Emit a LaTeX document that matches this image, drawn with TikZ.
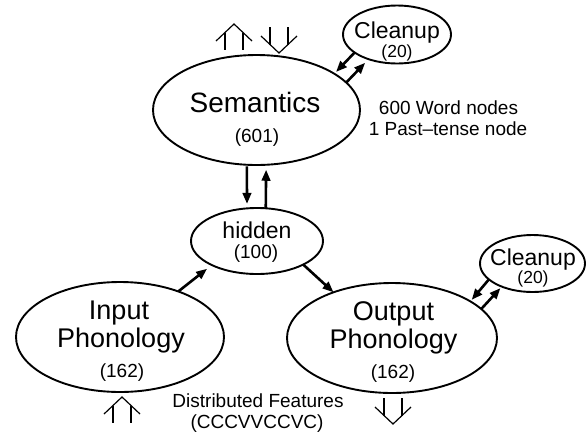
\documentclass[tikz,border=0pt]{standalone}
\usepackage{fontspec}
\setmainfont{Liberation Sans}
\usetikzlibrary{shapes.geometric,arrows.meta}
\newcommand\myfs[1]{\fontsize{#1}{#1}\selectfont}
\tikzset{
  unit/.style={ellipse,draw,line width=1.9pt,inner sep=0pt,outer sep=0pt},
  conn/.style={line width=2.6pt,-{Triangle[length=11pt,width=8.5pt]}},
  sym/.style={line width=1.2pt},
  lbl/.style={anchor=base,inner sep=0pt},
  upsym/.pic={\draw[sym] (-18,17) -- (0,0) -- (18,17);
              \draw[sym] (-9,8.5) -- (-9,26) (9,8.5) -- (9,26);},
  downsym/.pic={\draw[sym] (-18,-17) -- (0,0) -- (18,-17);
                \draw[sym] (-9,-8.5) -- (-9,-26) (9,-8.5) -- (9,-26);}
}
\begin{document}
\begin{tikzpicture}[x=1pt,y=-1pt]
\useasboundingbox[fill=white] (0,0) rectangle (587,432);
% units
\node[unit,minimum width=207pt,minimum height=110pt] (sem) at (256.5,110) {};
\node[unit,minimum width=108pt,minimum height=58pt] (cut) at (397,34.5) {};
\node[unit,minimum width=132pt,minimum height=66pt] (hid) at (257,241) {};
\node[unit,minimum width=208pt,minimum height=110pt] (inp) at (120,337) {};
\node[unit,minimum width=210pt,minimum height=110pt] (out) at (392,338) {};
\node[unit,minimum width=105pt,minimum height=57pt] (cub) at (532.5,263.5) {};
% texts
\node[lbl] (t1) at (255,112) {\myfs{28}Semantics};
\node[lbl] (t2) at (257,142) {\myfs{19}(601)};
\node[lbl] (t3) at (397,38.5) {\myfs{23}Cleanup};
\node[lbl] (t4) at (397,57) {\myfs{17.5}(20)};
\node[lbl] (t5) at (257,238) {\myfs{23}hidden};
\node[lbl] (t6) at (256,258) {\myfs{19}(100)};
\node[lbl] (t7) at (119,319) {\myfs{27}Input};
\node[lbl] (t8) at (121,347) {\myfs{27}Phonology};
\node[lbl] (t9) at (122,377) {\myfs{19}(162)};
\node[lbl] (t10) at (393.5,320) {\myfs{27}Output};
\node[lbl] (t11) at (393.5,348) {\myfs{27}Phonology};
\node[lbl] (t12) at (393,378) {\myfs{19}(162)};
\node[lbl] (t13) at (533,265) {\myfs{23}Cleanup};
\node[lbl] (t14) at (533,283.5) {\myfs{17.5}(20)};
\node[lbl] (t15) at (448.5,114) {\myfs{19}600 Word nodes};
\node[lbl] (t16) at (448,135) {\myfs{19}1 Past–tense node};
\node[lbl] (t17) at (258,407) {\myfs{19}Distributed Features};
\node[lbl] (t18) at (257,428) {\myfs{19}(CCCVVCCVC)};
% connections
\draw[conn,shorten <=1.5pt,shorten >=4.5pt] (sem.260) -- (hid.107);
\draw[conn,shorten <=0.5pt,shorten >=5pt] (hid.75) -- (sem.280);
\draw[conn,shorten >=6pt] (inp.38) -- (hid.208);
\draw[conn] (hid.333) -- (out.142);
\draw[conn,shorten >=2.5pt] (cut.203) -- (sem.25);
\draw[conn,shorten >=5pt] (sem.17) -- (cut.221);
\draw[conn,shorten >=2pt] (cub.200) -- (out.25);
\draw[conn,shorten >=2pt] (out.18) -- (cub.217);
% input/output symbols
\pic (s1) at (234,24) {upsym};
\pic (s2) at (279,53) {downsym};
\pic (s3) at (122,397) {upsym};
\pic (s4) at (393,424) {downsym};
\end{tikzpicture}
\end{document}
